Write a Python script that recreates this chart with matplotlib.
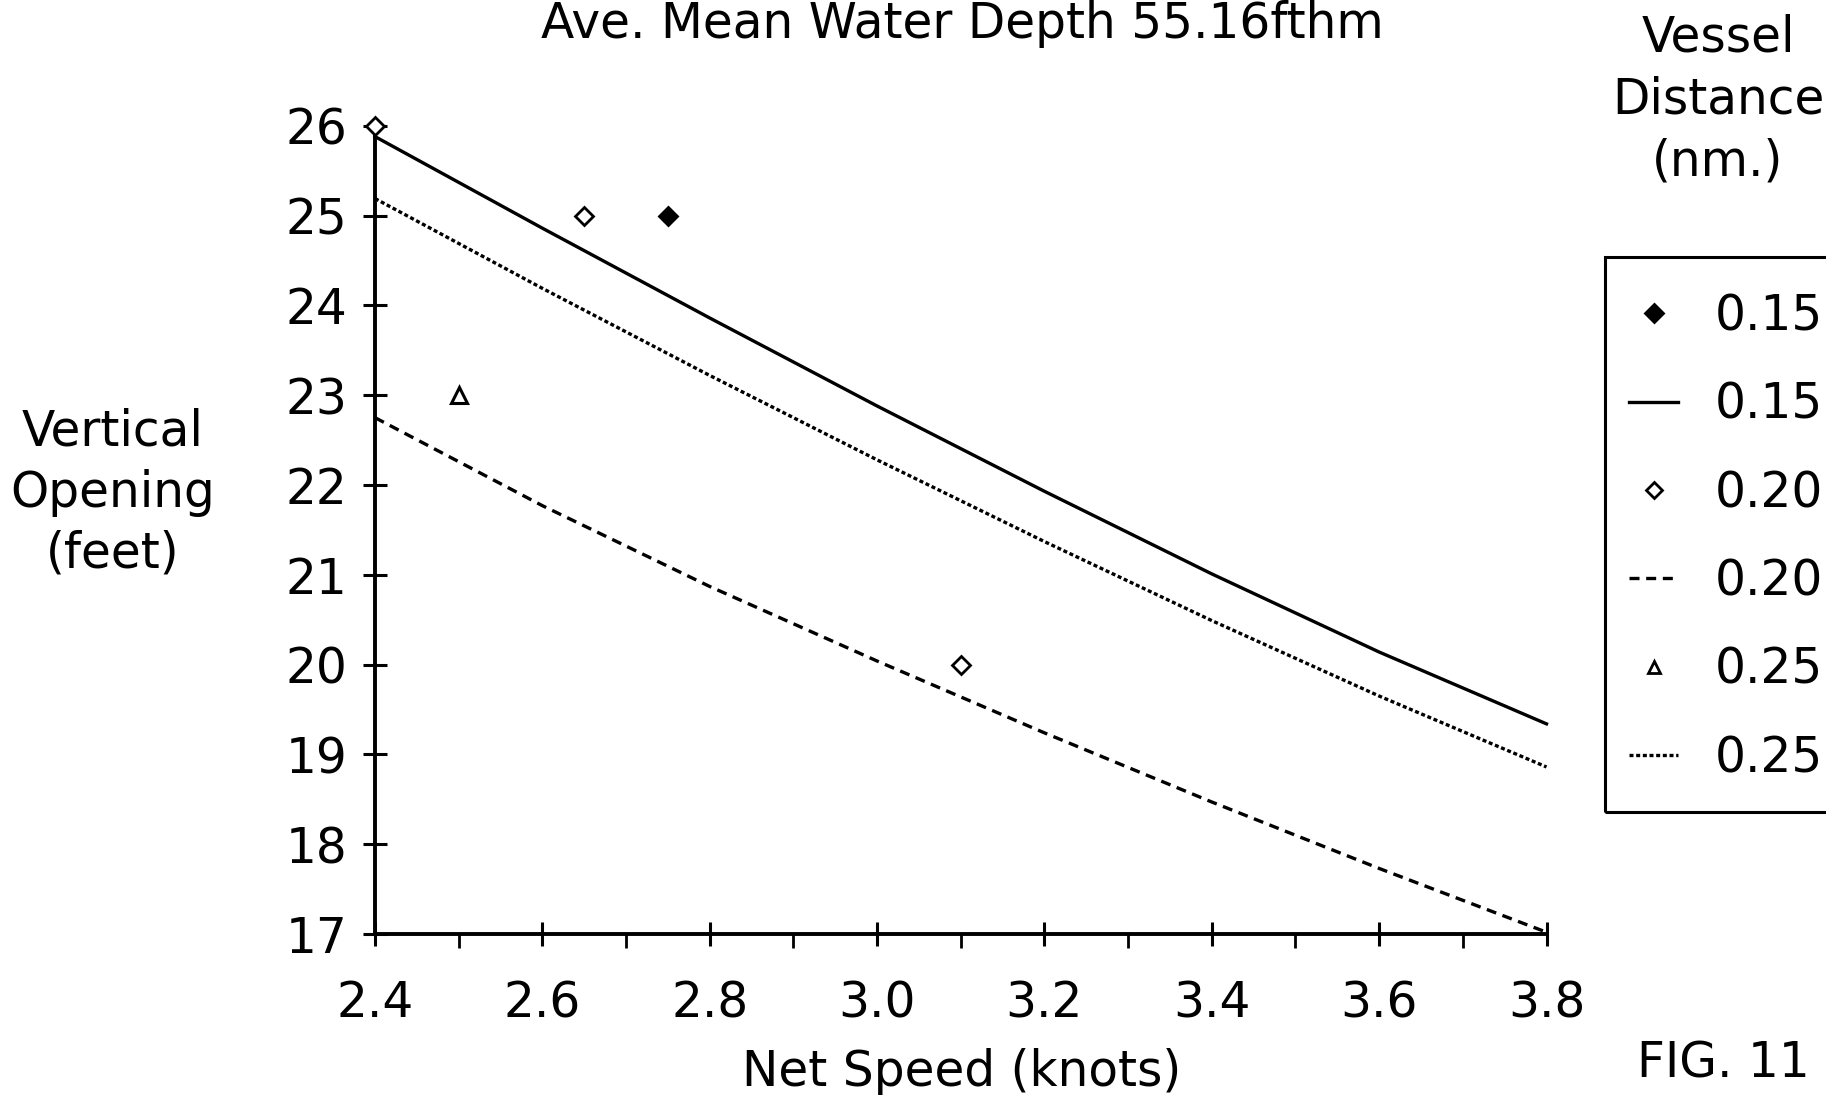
import numpy as np
import matplotlib
matplotlib.use("Agg")
import matplotlib.pyplot as plt
from matplotlib.lines import Line2D
from matplotlib.patches import Rectangle

plt.rcParams['font.family'] = ['DejaVu Sans']

# ---- data ----
speed = [2.4, 2.6, 2.8, 3.0, 3.2, 3.4, 3.6, 3.8]
curve_015 = [25.88, 24.86, 23.86, 22.88, 21.93, 21.01, 20.14, 19.34]
curve_025 = [25.19, 24.19, 23.22, 22.28, 21.37, 20.49, 19.65, 18.86]
curve_020 = [22.75, 21.77, 20.87, 20.04, 19.24, 18.47, 17.73, 17.02]

pts_015_x = [2.75]
pts_015_y = [25.0]
pts_020_x = [2.4, 2.65, 3.1]
pts_020_y = [26.0, 25.0, 20.0]
pts_025_x = [2.5]
pts_025_y = [23.0]

x_ticks = [2.4, 2.6, 2.8, 3.0, 3.2, 3.4, 3.6, 3.8]
x_tick_labels = ["2.4", "2.6", "2.8", "3.0", "3.2", "3.4", "3.6", "3.8"]
x_minor = [2.5, 2.7, 2.9, 3.1, 3.3, 3.5, 3.7]
y_ticks = [17, 18, 19, 20, 21, 22, 23, 24, 25, 26]
legend_labels = ["0.15", "0.15", "0.20", "0.20", "0.25", "0.25"]

W, H = 1826, 1095
FS = 35
LW = 2.4
fig = plt.figure(figsize=(W / 100, H / 100), dpi=100)
ax = fig.add_axes([375 / W, 1 - 934 / H, (1546.5 - 375) / W, (934 - 125.8) / H])

ax.set_xlim(2.4, 3.8)
ax.set_ylim(17, 26)
for s in ("top", "right"):
    ax.spines[s].set_visible(False)
for s in ("left", "bottom"):
    ax.spines[s].set_linewidth(2.8)

ax.set_xticks(x_ticks)
ax.set_xticklabels(x_tick_labels)
ax.set_xticks(x_minor, minor=True)
ax.set_yticks(y_ticks)
ax.tick_params(axis='x', which='major', direction='inout', length=17.5, width=2.2,
               pad=24, labelsize=FS)
ax.tick_params(axis='x', which='minor', direction='out', length=10, width=2.0)
ax.tick_params(axis='y', which='major', direction='inout', length=17.5, width=2.2,
               pad=11, labelsize=FS)

dotted = (0, (1.2, 0.8))
dashed = (0, (3.0, 2.0))

ax.plot(speed, curve_015, color='black', lw=LW, linestyle='-', clip_on=False)
ax.plot(speed, curve_025, color='black', lw=LW, linestyle=dotted, clip_on=False)
ax.plot(speed, curve_020, color='black', lw=LW, linestyle=dashed, clip_on=False)

MS = 9
ax.plot(pts_015_x, pts_015_y, linestyle='none', marker='D', ms=MS, mfc='black',
        mec='black', mew=2, clip_on=False)
ax.plot(pts_020_x, pts_020_y, linestyle='none', marker='D', ms=MS, mfc='white',
        mec='black', mew=2, clip_on=False, zorder=5)
ax.plot(pts_025_x, pts_025_y, linestyle='none', marker='^', ms=MS + 2, mfc='white',
        mec='black', mew=2.2, clip_on=False)

# texts
fig.text(962 / W, 1 - 38 / H, "Ave. Mean Water Depth 55.16fthm", ha='center',
         va='baseline', fontsize=FS)
fig.text(962 / W, 1 - 1072 / H, "Net Speed (knots)", ha='center', va='center', fontsize=FS)
for txt, yy in (("Vertical", 431), ("Opening", 493), ("(feet)", 553)):
    fig.text(113 / W, 1 - yy / H, txt, ha='center', va='center', fontsize=FS)
for txt, yy in (("Vessel", 38), ("Distance", 99), ("(nm.)", 161)):
    fig.text(1718 / W, 1 - yy / H, txt, ha='center', va='center', fontsize=FS)
fig.text(1723 / W, 1 - 1064 / H, "FIG. 11", ha='center', va='center', fontsize=FS)

# legend
handles = [
    Line2D([], [], linestyle='none', marker='D', ms=MS, mfc='black', mec='black', mew=2),
    Line2D([], [], color='black', lw=LW, linestyle='-'),
    Line2D([], [], linestyle='none', marker='D', ms=MS - 1, mfc='white', mec='black', mew=2),
    Line2D([], [], color='black', lw=LW, linestyle=dashed),
    Line2D([], [], linestyle='none', marker='^', ms=MS, mfc='white', mec='black', mew=2),
    Line2D([], [], color='black', lw=LW, linestyle=dotted),
]
leg = fig.legend(handles, legend_labels, loc='upper left',
                 bbox_to_anchor=(1605 / W, 1 - 268 / H), bbox_transform=fig.transFigure,
                 fontsize=FS, handlelength=1.0, handletextpad=0.76, borderpad=0.5,
                 labelspacing=0.83, borderaxespad=0, frameon=False)
frame = Rectangle((1605 / W, 1 - 812 / H), (1840 - 1605) / W, (812 - 257) / H,
                  transform=fig.transFigure, fill=False, edgecolor='black', lw=2.2,
                  clip_on=False)
fig.add_artist(frame)

fig.savefig("out.png", dpi=100)
